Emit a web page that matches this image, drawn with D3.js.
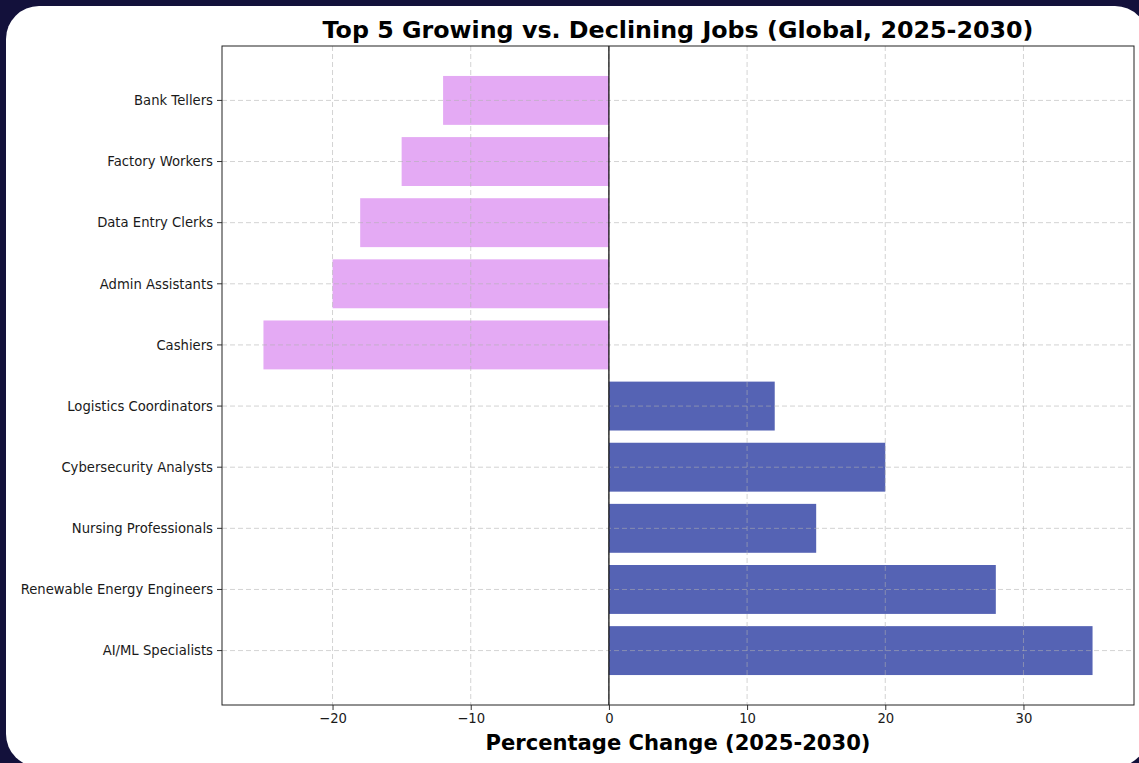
<!DOCTYPE html>
<html>
<head>
<meta charset="utf-8">
<script src="https://cdn.jsdelivr.net/npm/d3@7/dist/d3.min.js"></script>
<style>
    html, body { margin: 0; padding: 0; background: #13113b; }
    svg { display: block; font-family: "DejaVu Sans", sans-serif; }
</style>
</head>
<body>
<svg id="chart" width="1139" height="763"></svg>
<script>
// jobs, listed top to bottom as they appear in the chart
const jobs = [
    "Bank Tellers", "Factory Workers", "Data Entry Clerks", "Admin Assistants", "Cashiers",
    "Logistics Coordinators", "Cybersecurity Analysts", "Nursing Professionals",
    "Renewable Energy Engineers", "AI/ML Specialists"
]
const changes = [-12, -15, -18, -20, -25, 12, 20, 15, 28, 35]
const xTicks = [-20, -10, 0, 10, 20, 30]

const COLOR_GROW = "#5563b4"
const COLOR_DECLINE = "#e4aaf4"

const margin = {left: 222, right: 1134, top: 46, bottom: 705}

const svg = d3.select("#chart")

// white card on the dark background
svg.append("rect")
    .attr("x", 6).attr("y", 6)
    .attr("width", 1142).attr("height", 761)
    .attr("rx", 33)
    .attr("fill", "#ffffff")

const x = d3.scaleLinear()
    .domain([-28, 38])
    .range([margin.left, margin.right])

const y = d3.scaleBand()
    .domain(jobs)
    .range([margin.top, margin.bottom])
    .paddingInner(0.2)
    .paddingOuter(0.49)

const data = jobs.map((job, i) => ({job: job, value: changes[i]}))

// bars
svg.append("g")
    .selectAll("rect")
    .data(data)
    .enter()
    .append("rect")
    .attr("x", d => x(Math.min(0, d.value)))
    .attr("width", d => Math.abs(x(d.value) - x(0)))
    .attr("y", d => y(d.job))
    .attr("height", y.bandwidth())
    .attr("fill", d => d.value >= 0 ? COLOR_GROW : COLOR_DECLINE)

// grid, drawn over the bars like matplotlib does
const grid = svg.append("g")
    .attr("stroke", "#b0b0b0")
    .attr("stroke-opacity", 0.7)
    .attr("stroke-width", 0.8)
    .attr("stroke-dasharray", "5,3")

grid.selectAll("line.vx")
    .data(xTicks)
    .enter()
    .append("line")
    .attr("x1", d => x(d)).attr("x2", d => x(d))
    .attr("y1", margin.top).attr("y2", margin.bottom)

grid.selectAll("line.hy")
    .data(jobs)
    .enter()
    .append("line")
    .attr("x1", margin.left).attr("x2", margin.right)
    .attr("y1", d => y(d) + y.bandwidth() / 2)
    .attr("y2", d => y(d) + y.bandwidth() / 2)

// zero line
svg.append("line")
    .attr("x1", x(0)).attr("x2", x(0))
    .attr("y1", margin.top).attr("y2", margin.bottom)
    .attr("stroke", "#000")
    .attr("stroke-width", 1.2)

// axes
const xAxis = d3.axisBottom(x)
    .tickValues(xTicks)
    .tickSize(5)
    .tickPadding(4)
    .tickFormat(d => d < 0 ? "\u2212" + Math.abs(d) : String(d))

const yAxis = d3.axisLeft(y)
    .tickSize(5)
    .tickPadding(4)

const gx = svg.append("g")
    .attr("transform", `translate(0,${margin.bottom})`)
    .call(xAxis)
const gy = svg.append("g")
    .attr("transform", `translate(${margin.left},0)`)
    .call(yAxis)

for (const g of [gx, gy]) {
    g.select(".domain").remove()
    g.selectAll(".tick line").attr("stroke", "#333").attr("stroke-width", 1)
    g.selectAll(".tick text")
        .attr("font-family", "DejaVu Sans")
        .attr("font-size", 13.2)
        .attr("fill", "#1a1a1a")
}
gy.selectAll(".tick text").attr("dy", "0.36em")

// frame
svg.append("rect")
    .attr("x", margin.left).attr("y", margin.top)
    .attr("width", margin.right - margin.left)
    .attr("height", margin.bottom - margin.top)
    .attr("fill", "none")
    .attr("stroke", "#222")
    .attr("stroke-width", 1)

// title and axis label
svg.append("text")
    .attr("x", (margin.left + margin.right) / 2)
    .attr("y", 38)
    .attr("text-anchor", "middle")
    .attr("font-size", 23)
    .attr("font-weight", "bold")
    .attr("fill", "#000")
    .attr("textLength", 711)
    .attr("lengthAdjust", "spacingAndGlyphs")
    .text("Top 5 Growing vs. Declining Jobs (Global, 2025-2030)")

svg.append("text")
    .attr("x", (margin.left + margin.right) / 2)
    .attr("y", 750)
    .attr("text-anchor", "middle")
    .attr("font-size", 20.5)
    .attr("font-weight", "bold")
    .attr("fill", "#000")
    .attr("textLength", 385)
    .attr("lengthAdjust", "spacingAndGlyphs")
    .text("Percentage Change (2025-2030)")
</script>
</body>
</html>
